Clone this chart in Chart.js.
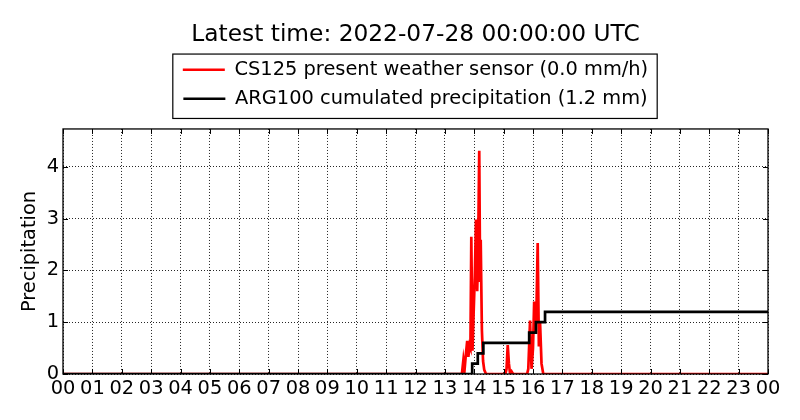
<!DOCTYPE html>
<html>
<head>
<meta charset="utf-8">
<script src="https://cdn.jsdelivr.net/npm/chart.js@4/dist/chart.umd.min.js"></script>
<style>
    html, body { margin: 0; padding: 0; background: #fff; }
    #wrap { width: 800px; height: 420px; }
</style>
</head>
<body>
<div id="wrap"><canvas id="precipChart" width="800" height="420"></canvas></div>
<script>
// Chart data
const chartTitle = 'Latest time: 2022-07-28 00:00:00 UTC';
const seriesNames = ['CS125 present weather sensor (0.0 mm/h)', 'ARG100 cumulated precipitation (1.2 mm)'];
const hourLabels = ['00', '01', '02', '03', '04', '05', '06', '07', '08', '09', '10', '11', '12',
    '13', '14', '15', '16', '17', '18', '19', '20', '21', '22', '23', '00'];

// CS125 rain rate (hours since 00 UTC, mm/h)
const redTimes = [0, 13.58, 13.63, 13.67, 13.71, 13.76, 13.80, 13.84, 13.87, 13.90, 13.94, 13.98, 14.02, 14.06,
    14.10, 14.13, 14.17, 14.20, 14.22, 14.26, 14.30, 14.34, 14.40, 15.06, 15.10, 15.14, 15.18, 15.22, 15.27,
    15.30, 15.34, 15.80, 15.84, 15.90, 15.95, 16.00, 16.04, 16.08, 16.12, 16.16, 16.20, 16.24, 16.29, 16.35, 24];
const redRates = [0, 0, 0.27, 0.08, 0.35, 0.64, 0.33, 0.55, 0.5, 2.65, 0.45, 1.2, 1.9, 2.98,
    1.6, 2.3, 4.31, 1.8, 2.59, 0.85, 0.25, 0.08, 0, 0, 0.1, 0.56, 0.2, 0, 0.05,
    0.02, 0, 0, 0.1, 1.03, 0.1, 0.5, 1.4, 0.8, 1.3, 2.53, 0.53, 1.0, 0.2, 0, 0];

// ARG100 cumulated precipitation (hours, mm)
const stepTimes = [0, 13.93, 14.12, 14.31, 15.87, 16.10, 16.41, 24];
const stepTotals = [0, 0.2, 0.4, 0.6, 0.8, 1.0, 1.2, 1.2];

const yTop = 4.73;

function toPoints(xs, ys) {
    return xs.map((x, i) => ({ x: x, y: ys[i] }));
}

// frame around the plot area (with inward ticks) and around the legend items
const framePlugin = {
    id: 'frame',
    afterDatasetsDraw(chart) {
        const a = chart.chartArea;
        const ctx = chart.ctx;
        const tick = 5;
        ctx.save();
        ctx.strokeStyle = '#000';
        ctx.lineWidth = 1;
        ctx.beginPath();
        chart.scales.x.ticks.forEach(t => {
            const px = Math.round(chart.scales.x.getPixelForValue(t.value)) + 0.5;
            ctx.moveTo(px, a.bottom); ctx.lineTo(px, a.bottom - tick);
            ctx.moveTo(px, a.top); ctx.lineTo(px, a.top + tick);
        });
        chart.scales.y.ticks.forEach(t => {
            const py = Math.round(chart.scales.y.getPixelForValue(t.value)) + 0.5;
            ctx.moveTo(a.left, py); ctx.lineTo(a.left + tick, py);
            ctx.moveTo(a.right, py); ctx.lineTo(a.right - tick, py);
        });
        ctx.stroke();
        ctx.lineWidth = 1.3;
        ctx.strokeRect(a.left, a.top, a.right - a.left, a.bottom - a.top);
        ctx.restore();
    },
    afterDraw(chart) {
        const boxes = chart.legend && chart.legend.legendHitBoxes;
        if (!boxes || !boxes.length) return;
        const left = Math.min(...boxes.map(b => b.left)) - 10;
        const top = Math.min(...boxes.map(b => b.top)) - 6;
        const right = Math.max(...boxes.map(b => b.left + b.width)) + 9;
        const bottom = Math.max(...boxes.map(b => b.top + b.height)) + 10;
        const ctx = chart.ctx;
        ctx.save();
        ctx.strokeStyle = '#000';
        ctx.lineWidth = 1.2;
        ctx.strokeRect(left, top, right - left, bottom - top);
        ctx.restore();
    }
};

Chart.defaults.font.family = "'DejaVu Sans', sans-serif";
Chart.defaults.color = '#000';

new Chart(document.getElementById('precipChart'), {
    type: 'line',
    data: {
        datasets: [{
            label: seriesNames[0],
            data: toPoints(redTimes, redRates),
            borderColor: '#ff0000',
            backgroundColor: '#ff0000',
            borderWidth: 2.7,
            pointRadius: 0,
            tension: 0,
            order: 1
        }, {
            label: seriesNames[1],
            data: toPoints(stepTimes, stepTotals),
            borderColor: '#000000',
            backgroundColor: '#000000',
            borderWidth: 2.7,
            pointRadius: 0,
            stepped: true,
            order: 0
        }]
    },
    options: {
        responsive: false,
        animation: false,
        layout: { padding: { left: 0, right: 32, top: 0, bottom: 0 } },
        plugins: {
            title: {
                display: true,
                text: chartTitle,
                fullSize: false,
                color: '#000',
                font: { size: 23.3, weight: 'normal' },
                padding: { top: 21, bottom: 1.5 }
            },
            subtitle: {
                // spacer between legend and axes
                display: true,
                text: '',
                weight: 500,
                fullSize: false,
                font: { size: 10, lineHeight: 1.05 },
                padding: 0
            },
            legend: {
                display: true,
                position: 'top',
                fullSize: false,
                labels: {
                    font: { size: 19.4 },
                    color: '#000',
                    padding: 9.6,
                    usePointStyle: true,
                    pointStyle: 'line',
                    pointStyleWidth: 42,
                    sort: (a, b) => a.datasetIndex - b.datasetIndex
                }
            },
            tooltip: { enabled: false }
        },
        scales: {
            x: {
                type: 'linear',
                min: 0,
                max: 24,
                afterFit: (scale) => { scale.height = 46; },
                ticks: {
                    stepSize: 1,
                    autoSkip: false,
                    maxRotation: 0,
                    padding: 3,
                    font: { size: 19.4 },
                    callback: (v) => hourLabels[Math.round(v)]
                },
                grid: { color: 'rgba(0,0,0,0.85)', lineWidth: 1, drawTicks: false },
                border: { display: false, dash: [1, 2] }
            },
            y: {
                min: 0,
                max: yTop,
                afterFit: (scale) => { scale.width = 63; },
                ticks: {
                    stepSize: 1,
                    includeBounds: false,
                    padding: 4,
                    font: { size: 19.4 }
                },
                title: {
                    display: true,
                    text: 'Precipitation',
                    font: { size: 19.4 },
                    padding: { top: 18.4, bottom: 0 }
                },
                grid: { color: 'rgba(0,0,0,0.85)', lineWidth: 1, drawTicks: false },
                border: { display: false, dash: [1, 2] }
            }
        }
    },
    plugins: [framePlugin]
});
</script>
</body>
</html>
